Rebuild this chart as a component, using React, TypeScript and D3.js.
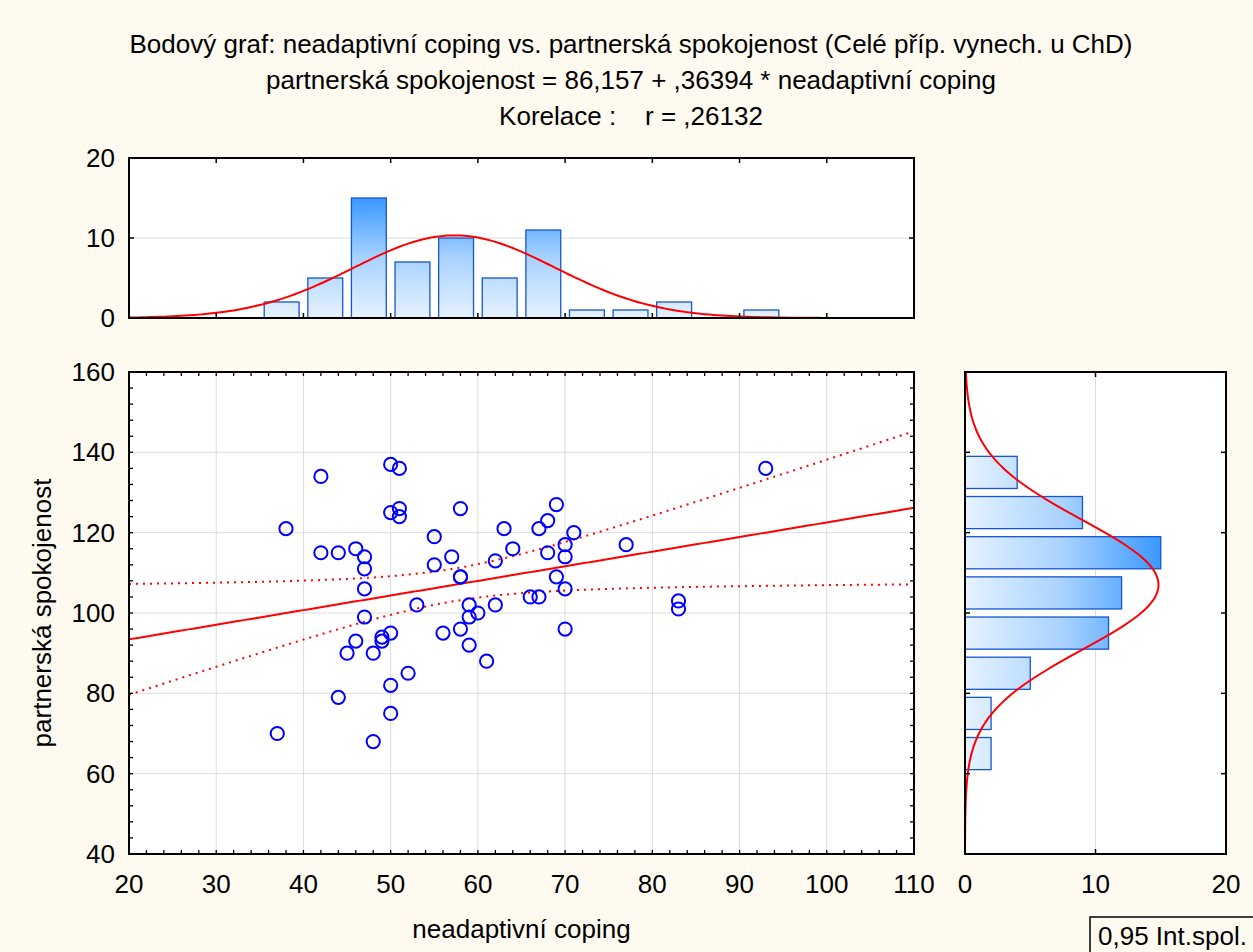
import React from 'react';
import * as d3 from 'd3';

// ---------- data ----------
const X_VALUES = [37,38,42,42,44,44,45,46,46,47,47,47,47,48,48,49,49,50,50,50,50,50,51,51,51,52,53,55,55,56,57,58,58,58,58,59,59,59,60,61,62,62,63,64,66,67,67,68,68,69,69,70,70,70,70,71,77,83,83,93];
const Y_VALUES = [70,121,134,115,115,79,90,116,93,114,111,106,99,90,68,94,93,137,125,95,82,75,136,126,124,85,102,119,112,95,114,126,109,109,96,102,99,92,100,88,113,102,121,116,104,104,121,123,115,127,109,117,114,106,96,120,117,103,101,136];

const INTERCEPT = 86.157;
const SLOPE = 0.36394;

const TITLE_LINES = [
  'Bodový graf: neadaptivní coping vs. partnerská spokojenost (Celé příp. vynech. u ChD)',
  'partnerská spokojenost = 86,157 + ,36394 * neadaptivní coping',
  'Korelace :    r = ,26132',
];
const X_LABEL = 'neadaptivní coping';
const Y_LABEL = 'partnerská spokojenost';
const LEGEND_LABEL = '0,95 Int.spol.';

const X_TICKS = [20, 30, 40, 50, 60, 70, 80, 90, 100, 110];
const Y_TICKS = [40, 60, 80, 100, 120, 140, 160];
const TOP_HIST_TICKS = [0, 10, 20];
const RIGHT_HIST_TICKS = [0, 10, 20];
const X_BIN_WIDTH = 5;
const Y_BIN_WIDTH = 10;
const T_CRIT = 2.0017;

// ---------- layout ----------
const W = 1253, H = 952;
const L = 129, R = 914, T = 372, B = 854;
const HT = 158, HB = 318;
const RL = 965, RR = 1226;
const FONT = '"Liberation Sans", Arial, Helvetica, sans-serif';
const FS = 26;
const BG = '#FEFAF0';

const fmt = (v: number) => String(v).replace('.', ',');

export default function App() {
  React.useEffect(() => {
    document.body.style.margin = '0';
  }, []);

  const x = d3.scaleLinear().domain([20, 110]).range([L, R]);
  const y = d3.scaleLinear().domain([40, 160]).range([B, T]);
  const hy = d3.scaleLinear().domain([0, 20]).range([HB, HT]);
  const rx = d3.scaleLinear().domain([0, 20]).range([RL, RR]);

  const n = X_VALUES.length;
  const mx = d3.mean(X_VALUES)!;
  const my = d3.mean(Y_VALUES)!;
  const sx = d3.deviation(X_VALUES)!;
  const sy = d3.deviation(Y_VALUES)!;
  const sxx = d3.sum(X_VALUES, (v) => (v - mx) ** 2);
  const sse = d3.sum(X_VALUES.map((v, i) => (Y_VALUES[i] - (INTERCEPT + SLOPE * v)) ** 2));
  const s = Math.sqrt(sse / (n - 2));

  // histogram bins (lo, hi]
  const xBins = d3.range(20, 110, X_BIN_WIDTH).map((lo) => ({
    lo, hi: lo + X_BIN_WIDTH,
    count: X_VALUES.filter((v) => v > lo && v <= lo + X_BIN_WIDTH).length,
  }));
  const yBins = d3.range(40, 160, Y_BIN_WIDTH).map((lo) => ({
    lo, hi: lo + Y_BIN_WIDTH,
    count: Y_VALUES.filter((v) => v > lo && v <= lo + Y_BIN_WIDTH).length,
  }));

  const pdf = (v: number, m: number, sd: number) =>
    Math.exp(-0.5 * ((v - m) / sd) ** 2) / (sd * Math.sqrt(2 * Math.PI));

  const topCurve = d3.line<number>()
    .x((v) => x(v))
    .y((v) => hy(n * X_BIN_WIDTH * pdf(v, mx, sx)))(d3.range(20, 110.01, 0.5));
  const rightCurve = d3.line<number>()
    .x((v) => rx(n * Y_BIN_WIDTH * pdf(v, my, sy)))
    .y((v) => y(v))(d3.range(40, 160.01, 0.5));

  const xs = d3.range(20, 110.01, 0.5);
  const fit = (v: number) => INTERCEPT + SLOPE * v;
  const half = (v: number) => T_CRIT * s * Math.sqrt(1 / n + (v - mx) ** 2 / sxx);
  const regLine = d3.line<number>().x((v) => x(v)).y((v) => y(fit(v)))(xs);
  const upper = d3.line<number>().x((v) => x(v)).y((v) => y(fit(v) + half(v)))(xs);
  const lower = d3.line<number>().x((v) => x(v)).y((v) => y(fit(v) - half(v)))(xs);

  const grid = '#DCDCDC';
  const barStroke = '#1655D4';
  const tickLen = 5;

  const xMinor = d3.range(20, 110.01, 2);
  const yMinor = d3.range(40, 160.01, 4);

  return (
    <svg width={W} height={H} style={{ position: 'absolute', left: 0, top: 0, display: 'block' }}
      fontFamily={FONT} fontSize={FS}>
      <defs>
        <linearGradient id="gTop" gradientUnits="userSpaceOnUse" x1={0} y1={hy(0)} x2={0} y2={hy(15)}>
          <stop offset="0" stopColor="#E6F2FF" />
          <stop offset="0.5" stopColor="#A9D2FF" />
          <stop offset="1" stopColor="#3A98FF" />
        </linearGradient>
        <linearGradient id="gRight" gradientUnits="userSpaceOnUse" x1={rx(0)} y1={0} x2={rx(15)} y2={0}>
          <stop offset="0" stopColor="#E6F2FF" />
          <stop offset="0.5" stopColor="#A9D2FF" />
          <stop offset="1" stopColor="#3A98FF" />
        </linearGradient>
        <clipPath id="clipMain"><rect x={L} y={T} width={R - L} height={B - T} /></clipPath>
        <clipPath id="clipTop"><rect x={L} y={HT} width={R - L} height={HB - HT} /></clipPath>
        <clipPath id="clipRight"><rect x={RL} y={T} width={RR - RL} height={B - T} /></clipPath>
      </defs>
      <rect x={0} y={0} width={W} height={H} fill={BG} />

      {/* titles */}
      {TITLE_LINES.map((t, i) => (
        <text key={i} x={631} y={53 + i * 36} textAnchor="middle" fill="#000" style={{ whiteSpace: 'pre' }}>{t}</text>
      ))}

      {/* ---------- top histogram ---------- */}
      <rect x={L} y={HT} width={R - L} height={HB - HT} fill="#fff" />
      <line x1={L} x2={R} y1={hy(10)} y2={hy(10)} stroke={grid} strokeWidth={1} />
      {xBins.filter((b) => b.count > 0).map((b, i) => {
        const w = x(b.hi) - x(b.lo);
        return (
          <rect key={i} x={x(b.lo) + w * 0.1} y={hy(b.count)} width={w * 0.8} height={hy(0) - hy(b.count)}
            fill="url(#gTop)" stroke={barStroke} strokeWidth={1.3} />
        );
      })}
      <path d={topCurve!} fill="none" stroke="#FF0000" strokeWidth={2} clipPath="url(#clipTop)" />
      {X_TICKS.slice(1, -1).map((v) => (
        <g key={v}>
          <line x1={x(v)} x2={x(v)} y1={HT} y2={HT + tickLen} stroke="#000" strokeWidth={1.5} />
          <line x1={x(v)} x2={x(v)} y1={HB} y2={HB - tickLen} stroke="#000" strokeWidth={1.5} />
        </g>
      ))}
      <line x1={L} x2={L + tickLen} y1={hy(10)} y2={hy(10)} stroke="#000" strokeWidth={1.5} />
      <line x1={R} x2={R - tickLen} y1={hy(10)} y2={hy(10)} stroke="#000" strokeWidth={1.5} />
      <rect x={L} y={HT} width={R - L} height={HB - HT} fill="none" stroke="#000" strokeWidth={2} />
      {TOP_HIST_TICKS.map((v) => (
        <text key={v} x={115} y={hy(v) + 9} textAnchor="end">{v}</text>
      ))}

      {/* ---------- main scatter ---------- */}
      <rect x={L} y={T} width={R - L} height={B - T} fill="#fff" />
      {X_TICKS.slice(1, -1).map((v) => (
        <line key={v} x1={x(v)} x2={x(v)} y1={T} y2={B} stroke={grid} strokeWidth={1} />
      ))}
      {Y_TICKS.slice(1, -1).map((v) => (
        <line key={v} x1={L} x2={R} y1={y(v)} y2={y(v)} stroke={grid} strokeWidth={1} />
      ))}
      <g clipPath="url(#clipMain)">
        <path d={upper!} fill="none" stroke="#FF0000" strokeWidth={2} strokeDasharray="2 5" />
        <path d={lower!} fill="none" stroke="#FF0000" strokeWidth={2} strokeDasharray="2 5" />
        <path d={regLine!} fill="none" stroke="#FF0000" strokeWidth={2} />
      </g>
      {X_VALUES.map((v, i) => (
        <circle key={i} cx={x(v)} cy={y(Y_VALUES[i])} r={6.6} fill="none" stroke="#0000FF" strokeWidth={2} />
      ))}
      {xMinor.map((v) => (
        <g key={v}>
          <line x1={x(v)} x2={x(v)} y1={B} y2={B - 4} stroke="#000" strokeWidth={1.3} />
          <line x1={x(v)} x2={x(v)} y1={T} y2={T + 4} stroke="#000" strokeWidth={1.3} />
        </g>
      ))}
      {yMinor.map((v) => (
        <g key={v}>
          <line x1={L} x2={L + 4} y1={y(v)} y2={y(v)} stroke="#000" strokeWidth={1.3} />
          <line x1={R} x2={R - 4} y1={y(v)} y2={y(v)} stroke="#000" strokeWidth={1.3} />
        </g>
      ))}
      <rect x={L} y={T} width={R - L} height={B - T} fill="none" stroke="#000" strokeWidth={2} />
      {Y_TICKS.map((v) => (
        <text key={v} x={115} y={y(v) + 9} textAnchor="end">{v}</text>
      ))}
      {X_TICKS.map((v) => (
        <text key={v} x={x(v)} y={893} textAnchor="middle">{v}</text>
      ))}
      <text x={(L + R) / 2} y={938} textAnchor="middle">{X_LABEL}</text>
      <text transform={`translate(51,${(T + B) / 2}) rotate(-90)`} textAnchor="middle">{Y_LABEL}</text>

      {/* ---------- right histogram ---------- */}
      <rect x={RL} y={T} width={RR - RL} height={B - T} fill="#fff" />
      <line x1={rx(10)} x2={rx(10)} y1={T} y2={B} stroke={grid} strokeWidth={1} />
      {yBins.filter((b) => b.count > 0).map((b, i) => {
        const h = y(b.lo) - y(b.hi);
        return (
          <rect key={i} x={rx(0)} y={y(b.hi) + h * 0.1} width={rx(b.count) - rx(0)} height={h * 0.8}
            fill="url(#gRight)" stroke={barStroke} strokeWidth={1.3} />
        );
      })}
      <path d={rightCurve!} fill="none" stroke="#FF0000" strokeWidth={2} clipPath="url(#clipRight)" />
      {[60, 80, 100, 120, 140].map((v) => (
        <g key={v}>
          <line x1={RL} x2={RL + tickLen} y1={y(v)} y2={y(v)} stroke="#000" strokeWidth={1.5} />
          <line x1={RR} x2={RR - tickLen} y1={y(v)} y2={y(v)} stroke="#000" strokeWidth={1.5} />
        </g>
      ))}
      <line x1={rx(10)} x2={rx(10)} y1={T} y2={T + tickLen} stroke="#000" strokeWidth={1.5} />
      <line x1={rx(10)} x2={rx(10)} y1={B} y2={B - tickLen} stroke="#000" strokeWidth={1.5} />
      <rect x={RL} y={T} width={RR - RL} height={B - T} fill="none" stroke="#000" strokeWidth={2} />
      {RIGHT_HIST_TICKS.map((v) => (
        <text key={v} x={rx(v)} y={893} textAnchor="middle">{fmt(v)}</text>
      ))}

      {/* legend */}
      <rect x={1090} y={917} width={200} height={60} fill="none" stroke="#000" strokeWidth={1.5} />
      <text x={1098} y={945}>{LEGEND_LABEL}</text>
    </svg>
  );
}
